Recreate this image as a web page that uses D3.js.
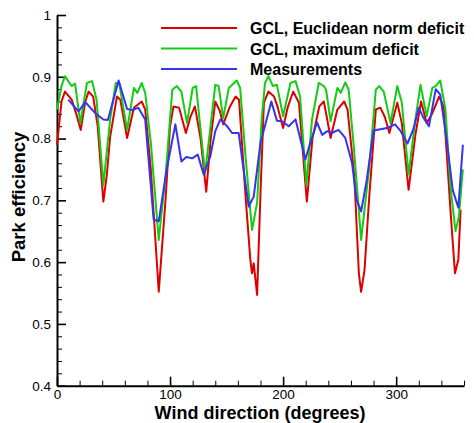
<!DOCTYPE html>
<meta charset="utf-8">
<style>
body { margin: 0; background: #fff; }
svg { font-family: "Liberation Sans", Arial, sans-serif; }
.axis path, .axis line { stroke: #000; }
.axis text { font-size: 13.5px; fill: #000; }
.series { fill: none; stroke-width: 2; stroke-linejoin: round; }
</style>
<svg width="474" height="423"></svg>
<script src="https://cdn.jsdelivr.net/npm/d3@7"></script>
<script>

// GCL, Euclidean norm deficit
var eucDir = [0, 4, 7, 13, 17, 21, 25, 28, 32, 36, 41, 44, 47, 53, 56, 62, 68, 75, 78, 83, 90, 96, 100, 103, 108, 114, 118, 122, 127, 132, 136, 140, 144, 147, 153, 158, 161, 167, 171, 172.5, 174, 177, 180, 183, 187, 192, 195, 200, 204, 207, 209, 214, 221, 226, 232, 236, 238, 242, 248, 254, 257, 263, 267, 269, 272, 276, 282, 286, 290, 294, 301, 305, 311, 317, 322, 327, 332, 338, 342, 348, 352, 355, 357];
var eucVal = [0.79, 0.86, 0.876, 0.863, 0.84, 0.814, 0.86, 0.876, 0.868, 0.82, 0.698, 0.74, 0.803, 0.868, 0.863, 0.801, 0.85, 0.86, 0.847, 0.75, 0.552, 0.701, 0.82, 0.852, 0.85, 0.809, 0.835, 0.852, 0.80, 0.714, 0.80, 0.86, 0.845, 0.823, 0.852, 0.868, 0.863, 0.701, 0.604, 0.582, 0.598, 0.547, 0.712, 0.858, 0.876, 0.868, 0.852, 0.817, 0.85, 0.866, 0.876, 0.858, 0.698, 0.801, 0.852, 0.86, 0.841, 0.801, 0.847, 0.86, 0.847, 0.739, 0.582, 0.552, 0.587, 0.701, 0.847, 0.85, 0.835, 0.809, 0.858, 0.825, 0.717, 0.806, 0.86, 0.825, 0.841, 0.868, 0.852, 0.685, 0.582, 0.604, 0.685];

// GCL, maximum deficit
var maxDir = [0, 4, 7, 11, 13, 16, 20.6, 26.5, 31, 35, 41, 47, 52, 55, 62, 68, 71, 75, 78, 83, 90, 96, 102, 106, 110, 115, 120, 123, 131, 140, 143, 147, 152, 155, 159, 162, 167, 172.5, 177, 181, 184, 187, 191, 194.5, 200, 206.5, 211, 215, 220.6, 225.6, 231.5, 236, 238, 242, 248, 251, 255, 258, 262.5, 269, 276, 282, 285, 289, 295, 301, 305, 311, 317, 321.5, 327, 332, 335, 339, 343.6, 348, 352.5, 355.5, 359];
var maxVal = [0.847, 0.885, 0.901, 0.89, 0.885, 0.889, 0.825, 0.89, 0.893, 0.863, 0.725, 0.831, 0.89, 0.89, 0.814, 0.882, 0.874, 0.89, 0.874, 0.793, 0.636, 0.739, 0.879, 0.885, 0.876, 0.825, 0.882, 0.885, 0.744, 0.887, 0.885, 0.833, 0.882, 0.887, 0.894, 0.882, 0.766, 0.652, 0.696, 0.831, 0.89, 0.901, 0.885, 0.887, 0.836, 0.89, 0.893, 0.868, 0.725, 0.831, 0.89, 0.885, 0.879, 0.828, 0.882, 0.874, 0.891, 0.879, 0.787, 0.636, 0.75, 0.879, 0.885, 0.876, 0.825, 0.885, 0.858, 0.742, 0.831, 0.887, 0.836, 0.882, 0.885, 0.894, 0.847, 0.722, 0.65, 0.674, 0.75];

// Measurements
var measDir = [10, 19, 25, 34, 41, 45, 54.5, 62, 67, 72, 78, 85.5, 90, 97, 104.7, 110, 114.4, 119.5, 124.5, 129.7, 135.6, 140, 144.5, 150.4, 154.8, 160.7, 165, 169.6, 174, 180, 184.3, 189.6, 194.5, 199, 205, 211, 219.7, 224, 230, 234.6, 239, 243, 249, 255, 261, 265, 269, 274, 280, 292, 299, 304, 310, 315, 320, 324, 329, 335, 339, 345, 350, 355, 359];
var measVal = [0.863, 0.844, 0.859, 0.841, 0.831, 0.83, 0.894, 0.848, 0.846, 0.85, 0.831, 0.669, 0.666, 0.75, 0.823, 0.763, 0.77, 0.768, 0.774, 0.742, 0.771, 0.812, 0.831, 0.82, 0.809, 0.809, 0.75, 0.69, 0.706, 0.793, 0.823, 0.86, 0.829, 0.828, 0.82, 0.831, 0.766, 0.793, 0.826, 0.806, 0.812, 0.809, 0.814, 0.801, 0.76, 0.701, 0.682, 0.733, 0.813, 0.817, 0.823, 0.812, 0.792, 0.814, 0.85, 0.834, 0.82, 0.88, 0.871, 0.793, 0.717, 0.688, 0.79];

var seriesNames = ["GCL, Euclidean norm deficit", "GCL, maximum deficit", "Measurements"];
var seriesColors = ["#dd0000", "#14cc14", "#3434f0"];

var xMajor = [0, 100, 200, 300];
var yMajor = [0.4, 0.5, 0.6, 0.7, 0.8, 0.9, 1];

var svg = d3.select("svg");

var x = d3.scaleLinear().domain([0, 360]).range([57, 464]);
var y = d3.scaleLinear().domain([0.4, 1]).range([385.7, 15]);

var xMinor = d3.range(0, 361, 20).filter(function(d) { return d % 100 != 0; });
var yMinor = d3.range(40, 101, 2).map(function(d) { return d / 100; })
    .filter(function(d) { return yMajor.indexOf(d) < 0; });

// minor ticks
svg.append("g")
    .attr("class", "axis")
    .attr("transform", "translate(0,385.7)")
    .call(d3.axisBottom(x).tickValues(xMinor).tickSize(-5).tickFormat(""))
    .call(function(g) { g.select(".domain").remove(); });

svg.append("g")
    .attr("class", "axis")
    .attr("transform", "translate(57,0)")
    .call(d3.axisLeft(y).tickValues(yMinor).tickSize(-5).tickFormat(""))
    .call(function(g) { g.select(".domain").remove(); });

// major ticks + domain
var xAxis = svg.append("g")
    .attr("class", "axis")
    .attr("transform", "translate(0,385.7)")
    .call(d3.axisBottom(x).tickValues(xMajor).tickSizeInner(-9).tickSizeOuter(0).tickPadding(4));
xAxis.selectAll("line").attr("stroke-width", 1.6);
xAxis.select(".domain").attr("stroke-width", 2);

var yAxis = svg.append("g")
    .attr("class", "axis")
    .attr("transform", "translate(57,0)")
    .call(d3.axisLeft(y).tickValues(yMajor).tickSizeInner(-9).tickSizeOuter(0).tickPadding(6)
      .tickFormat(function(d) { return d == 1 ? "1" : d3.format(".1f")(d); }));
yAxis.selectAll("line").attr("stroke-width", 1.6);
yAxis.select(".domain").attr("stroke-width", 2);

var line = d3.line()
    .x(function(d) { return x(d[0]); })
    .y(function(d) { return y(d[1]); });

var series = [
  d3.zip(eucDir, eucVal),
  d3.zip(maxDir, maxVal),
  d3.zip(measDir, measVal)
];

// red, green, then blue on top
svg.selectAll(".series")
  .data(series)
  .enter().append("path")
    .attr("class", "series")
    .attr("stroke", function(d, i) { return seriesColors[i]; })
    .attr("d", line);

// legend
var legend = svg.append("g");
legend.selectAll("line")
  .data(seriesNames)
  .enter().append("line")
    .attr("x1", 161)
    .attr("x2", 237)
    .attr("y1", function(d, i) { return 28 + i * 20.5; })
    .attr("y2", function(d, i) { return 28 + i * 20.5; })
    .attr("stroke", function(d, i) { return seriesColors[i]; })
    .attr("stroke-width", 2);

legend.selectAll("text")
  .data(seriesNames)
  .enter().append("text")
    .attr("x", 250)
    .attr("y", function(d, i) { return 34.3 + i * 20.2; })
    .attr("font-size", "16px")
    .attr("font-weight", "bold")
    .text(function(d) { return d; });

// axis titles
svg.append("text")
    .attr("x", 260)
    .attr("y", 419)
    .attr("text-anchor", "middle")
    .attr("font-size", "18px")
    .attr("font-weight", "bold")
    .text("Wind direction (degrees)");

svg.append("text")
    .attr("transform", "translate(25,197) rotate(-90)")
    .attr("text-anchor", "middle")
    .attr("font-size", "18.5px")
    .attr("font-weight", "bold")
    .text("Park efficiency");

</script>
